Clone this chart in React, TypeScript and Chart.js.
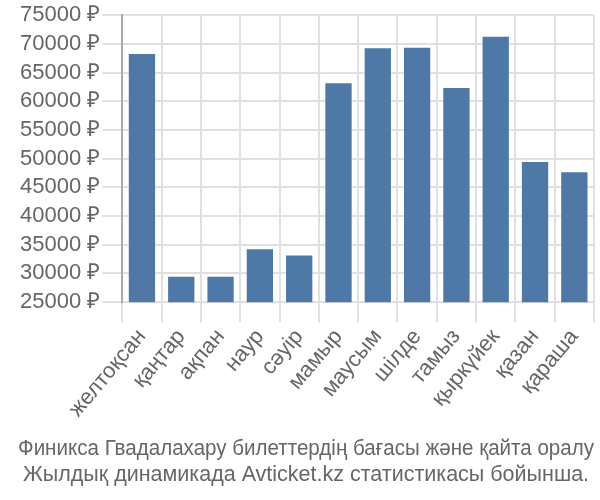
import React, { useEffect, useRef } from "react";
import { Chart, registerables } from "chart.js";

Chart.register(...registerables);

const months = ["желтоқсан", "қаңтар", "ақпан", "наур", "сәуір", "мамыр", "маусым", "шілде", "тамыз", "қыркүйек", "қазан", "қараша"];
const prices = [68400, 29600, 29600, 34400, 33300, 63300, 69400, 69500, 62500, 71400, 49600, 47800];
const titleLines = [
  "Финикса Гвадалахару билеттердің бағасы және қайта оралу",
  "Жылдық динамикада Avticket.kz статистикасы бойынша.",
];
const yMin = 25000;
const yMax = 75000;
const yStep = 5000;

export default function App() {
  const ref = useRef<HTMLCanvasElement | null>(null);
  useEffect(() => {
    if (!ref.current) return;
    const chart = new Chart(ref.current, {
      type: "bar",
      data: {
        labels: months,
        datasets: [
          {
            data: prices,
            backgroundColor: "#4e79a7",
            borderColor: "rgba(255,255,255,0.35)",
            borderWidth: 1,
          },
        ],
      },
      options: {
        animation: false,
        responsive: false,
        layout: { padding: { left: 18, right: 6, top: 4, bottom: 2 } },
        plugins: {
          legend: { display: false },
          tooltip: { enabled: false },
          title: {
            display: true,
            position: "bottom",
            text: titleLines,
            color: "#666",
            font: { family: "'Liberation Sans', Arial, sans-serif", size: 21.5, weight: "normal" },
            padding: { top: 12, bottom: 10 },
            lineHeight: 1.38,
          },
        },
        scales: {
          x: {
            grid: { color: "#e0e0e0", tickColor: "#e0e0e0", lineWidth: 2, tickLength: 20, offset: true },
            border: { color: "#e0e0e0", width: 2 },
            ticks: {
              color: "#666",
              font: { family: "'Liberation Sans', Arial, sans-serif", size: 22 },
              minRotation: 50,
              maxRotation: 50,
              autoSkip: false,
              padding: 2,
            },
          },
          y: {
            min: yMin,
            max: yMax,
            grid: { color: "#e0e0e0", tickColor: "#e0e0e0", lineWidth: 2, tickLength: 20, drawTicks: true },
            border: { color: "#aaa", width: 2 },
            ticks: {
              stepSize: yStep,
              autoSkip: false,
              color: "#666",
              font: { family: "'Liberation Sans', Arial, sans-serif", size: 22 },
              padding: 2,
              callback: (v: any) => v + " ₽",
            },
          },
        },
      },
    });
    return () => chart.destroy();
  }, []);
  return (
    <div style={{ position: "fixed", left: 0, top: 0, width: 600, height: 500 }}>
      <canvas ref={ref} width={600} height={500} />
    </div>
  );
}
